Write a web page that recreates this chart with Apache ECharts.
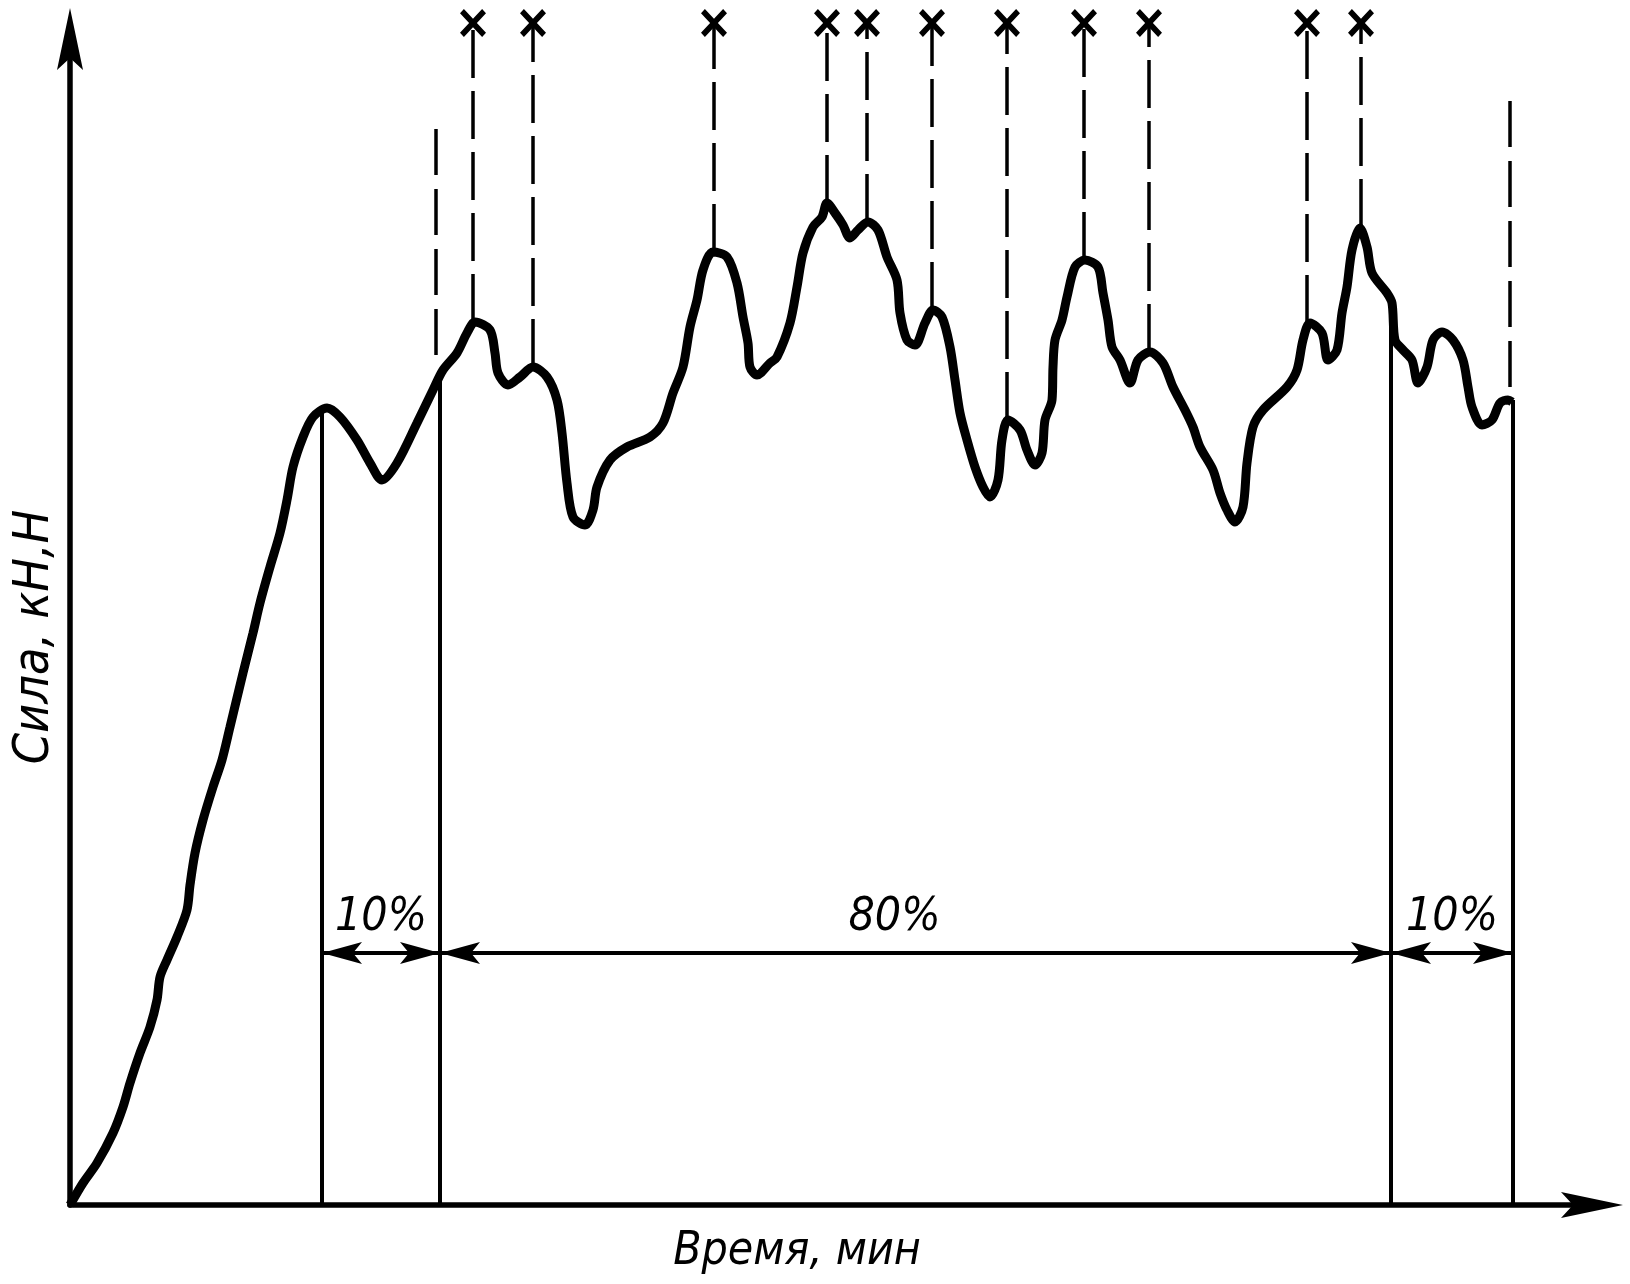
<!DOCTYPE html>
<html><head><meta charset="utf-8">
<script src="https://cdn.jsdelivr.net/npm/echarts@6.0.0/dist/echarts.min.js"></script>
<style>html,body{margin:0;padding:0;background:#fff}#c{width:1630px;height:1284px}</style>
</head><body><div id="c"></div>
<script>
// Force vs time record (schematic, arbitrary units)
const curveT = [0,1.3,2.7,4.3,5.3,6.0,7.0,8.0,8.7,9.0,
  9.7,10.7,11.7,12.0,12.5,13.3,14.3,15.2,16.0,17.3,
  18.3,19.0,20.0,21.0,21.7,22.3,23.3,24.3,25.7,27.0,
  28.7,30.0,31.2,32.7,34.7,36.3,
  37.3,38.7,39.7,40.5,42.0,42.5,42.8,43.8,45.0,
  46.3,47.7,48.7,49.2,49.7,50.3,51.5,52.3,52.7,54.0,
  55.7,58.0,59.3,60.3,61.3,62.0,62.7,63.3,64.3,65.7,
  66.7,67.3,67.8,68.0,68.7,70.0,70.7,72.0,72.7,73.3,
  74.3,75.2,75.7,76.5,77.3,78.0,78.8,79.8,80.8,81.7,
  82.7,83.0,83.7,84.5,85.5,86.3,87.2,88.0,88.5,89.0,
  89.7,90.5,91.3,92.0,92.8,93.2,93.8,95.0,95.7,96.5,
  97.2,97.5,98.2,98.3,98.5,99.2,99.7,100.5,101.5,102.8,
  103.3,103.8,104.2,105.0,106.0,106.8,108.0,109.3,110.3,111.5,
  112.3,113.0,114.3,115.0,115.7,116.5,117.3,117.7,118.3,119.3,
  121.7,122.7,123.3,124.0,125.2,125.8,126.7,127.2,127.7,128.2,
  129.0,129.7,130.2,131.7,132.2,132.5,133.3,134.2,134.8,135.7,
  136.3,137.2,138.3,139.3,139.8,140.2,141.2,142.2,143.0,143.8,
  144.2];
const curveF = [0,2.2,4.2,7.2,9.8,12.2,15.2,17.8,20.5,22.8,
  24.5,26.8,29.5,32.0,35.2,38.5,41.8,44.5,47.8,53.2,
  57.2,60.2,63.8,67.2,70.5,73.8,76.8,78.8,79.7,78.8,
  76.5,74.2,72.5,74.2,78.2,81.5,
  83.5,85.2,87.2,88.3,87.5,85.2,83.2,82.0,82.8,
  83.8,82.8,80.5,77.2,72.2,68.8,68.0,69.5,71.8,74.5,
  75.8,76.8,78.2,81.2,83.8,87.8,90.5,93.5,95.3,94.8,
  92.2,88.8,86.2,83.8,83.0,84.2,84.8,88.2,91.8,95.2,
  97.8,98.8,100.2,99.2,98.0,96.7,97.5,98.3,97.5,94.8,
  92.5,89.2,86.5,86.0,88.2,89.5,88.8,85.8,82.5,79.2,
  76.5,73.8,71.8,70.8,72.5,76.5,78.5,77.5,75.5,74.0,
  75.2,78.5,80.5,83.8,86.5,88.5,90.8,93.8,94.5,93.8,
  91.2,88.5,85.8,84.5,82.2,84.5,85.3,84.2,81.8,79.5,
  77.8,75.8,73.5,71.2,69.5,68.3,69.8,74.2,77.8,79.5,
  81.8,83.5,86.5,88.2,87.2,84.5,85.5,89.2,91.8,95.5,
  97.7,95.8,93.2,91.2,90.2,86.5,85.5,84.5,82.2,83.8,
  86.5,87.3,86.5,84.5,81.8,79.8,78.0,78.5,80.2,80.5,
  80.3];

// peaks marked with "x"
const peakT = [40.3, 46.3, 64.4, 75.7, 79.7, 86.2, 93.7, 101.4, 107.9, 123.7, 129.1];
const peakF = [88.3, 83.8, 95.3, 100.2, 98.3, 89.5, 78.5, 94.5, 85.3, 88.2, 97.8];
const markerF = 118.2;

// boundaries of the 10% / 80% / 10% zones
const boundT = [25.2, 37.0, 132.1, 144.3];
const boundF = [79.6, 82.5, 90.5, 80.5];
const guideT = [36.6, 144.0];
const guideFrom = [85.0, 81.8];
const guideTo = [107.8, 111.7];
const dimF = 25.2;
const dimLabels = ['10%', '80%', '10%'];

const xName = 'Время, мин';
const yName = 'Сила, кН,Н';

const FONT = "'DejaVu Sans Condensed', 'DejaVu Sans', sans-serif";
const ARROW_AXIS = 'path://M0,0L13,62L0,50L-13,62Z';
const ARROW_DIM = 'path://M0,0L11,40L0,31L-11,40Z';
const chart = echarts.init(document.getElementById('c'), null, {renderer: 'canvas'});

const series = [];
series.push({
  type: 'line', name: 'force', z: 5,
  data: curveT.map((t, i) => [t, curveF[i]]),
  showSymbol: false, smooth: 0.3,
  lineStyle: {color: '#000', width: 9},
  markLine: {
    silent: true, animation: false,
    symbol: ['none', 'none'],
    lineStyle: {color: '#000', width: 4, type: 'solid', opacity: 1},
    label: {show: true, position: 'middle', formatter: '{b}', color: '#000',
      fontFamily: FONT, fontStyle: 'italic', fontSize: 46, distance: 12},
    data: dimLabels.map((lab, i) => {
      const item = [{coord: [boundT[i], dimF], name: lab}, {coord: [boundT[i + 1], dimF]}];
      if (i === 1) item[0].label = {padding: [0, 42, 0, 0]};
      return item;
    })
  }
});
// arrowheads of the dimension line
series.push({
  type: 'scatter', z: 6, clip: false, silent: true,
  data: boundT.slice(0, 3).map(t => [t, dimF]),
  symbol: ARROW_DIM, symbolSize: [22, 40], symbolRotate: 90, symbolOffset: [20, 0],
  itemStyle: {color: '#000', opacity: 1}
});
series.push({
  type: 'scatter', z: 6, clip: false, silent: true,
  data: boundT.slice(1).map(t => [t, dimF]),
  symbol: ARROW_DIM, symbolSize: [22, 40], symbolRotate: -90, symbolOffset: [-20, 0],
  itemStyle: {color: '#000', opacity: 1}
});
boundT.forEach((t, i) => {
  series.push({type: 'line', data: [[t, 0], [t, boundF[i]]], showSymbol: false,
    lineStyle: {color: '#000', width: 4}, z: 3});
});
guideT.forEach((t, i) => {
  series.push({type: 'line', data: [[t, guideFrom[i]], [t, guideTo[i]]], showSymbol: false, clip: false,
    lineStyle: {color: '#000', width: 3.5, type: [46, 14]}, z: 3});
});
peakT.forEach((t, i) => {
  series.push({type: 'line', data: [[t, peakF[i]], [t, markerF]], showSymbol: false, clip: false,
    lineStyle: {color: '#000', width: 3.5, type: [48, 13]}, z: 3});
});
series.push({
  type: 'scatter', clip: false, z: 6, silent: true,
  data: peakT.map(t => [t, markerF]),
  symbol: 'path://M0,1.5L1.5,0L5,3.5L8.5,0L10,1.5L6.5,5L10,8.5L8.5,10L5,6.5L1.5,10L0,8.5L3.5,5Z',
  symbolSize: [26, 28],
  itemStyle: {color: '#000', opacity: 1}
});

chart.setOption({
  animation: false,
  backgroundColor: '#fff',
  grid: {left: 70, right: 38, top: 39, bottom: 79},
  xAxis: {
    type: 'value', min: 0, max: 152.2,
    name: xName, nameLocation: 'middle', nameGap: 24,
    nameTextStyle: {fontFamily: FONT, fontStyle: 'italic', fontSize: 46, color: '#000', padding: [0, 68, 0, 0]},
    axisLine: {show: true, symbol: ['none', ARROW_AXIS], symbolSize: [28, 62],
      lineStyle: {color: '#000', width: 5.5}},
    axisTick: {show: false}, axisLabel: {show: false}, splitLine: {show: false}
  },
  yAxis: {
    type: 'value', min: 0, max: 116.6,
    name: yName, nameLocation: 'middle', nameGap: 10, nameRotate: 90,
    nameTextStyle: {fontFamily: FONT, fontStyle: 'italic', fontSize: 50, color: '#000', padding: [0, 30, 0, 0]},
    axisLine: {show: true, symbol: ['none', ARROW_AXIS], symbolSize: [26, 62],
      lineStyle: {color: '#000', width: 5.5}},
    axisTick: {show: false}, axisLabel: {show: false}, splitLine: {show: false}
  },
  series: series
});
</script></body></html>
